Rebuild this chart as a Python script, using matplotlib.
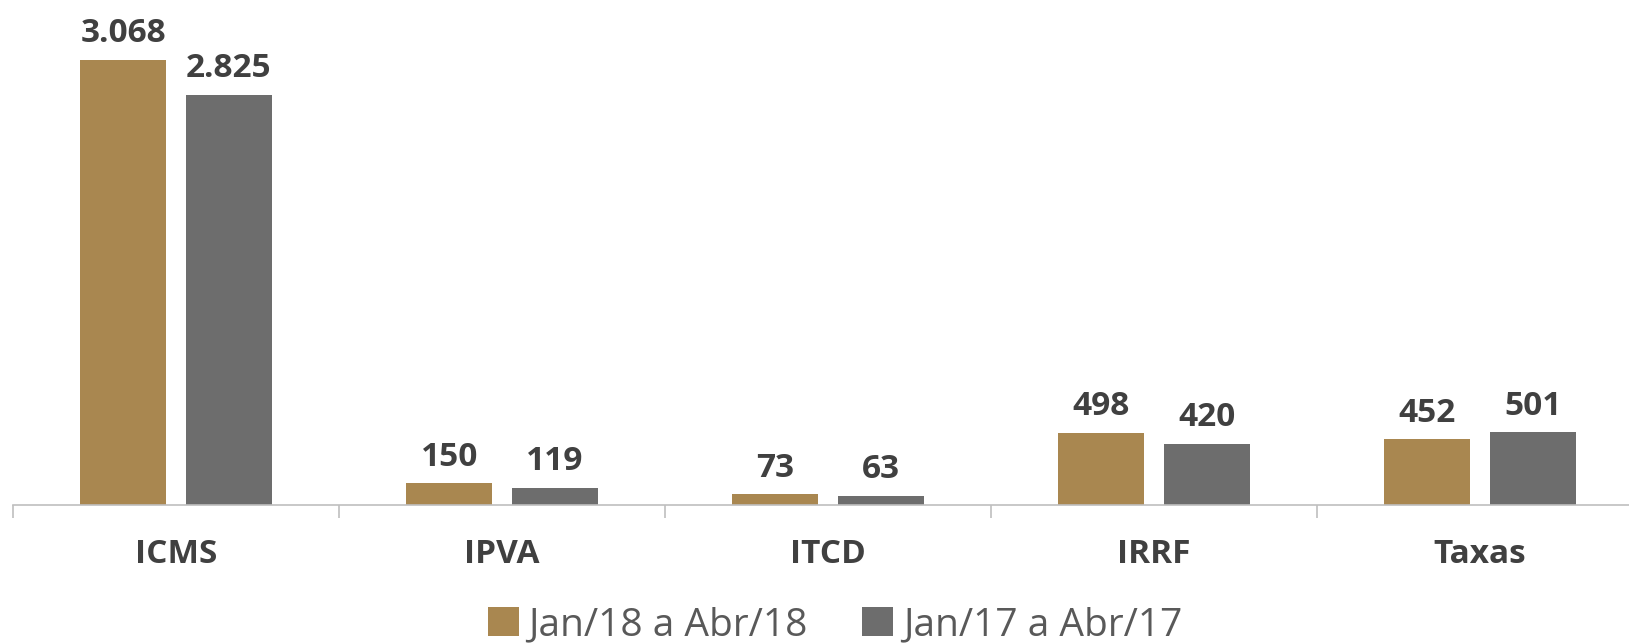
import matplotlib.pyplot as plt
import numpy as np

categorias = ['ICMS', 'IPVA', 'ITCD', 'IRRF', 'Taxas']
jan18_abr18 = [3068, 150, 73, 498, 452]
jan17_abr17 = [2825, 119, 63, 420, 501]
series = ['Jan/18 a Abr/18', 'Jan/17 a Abr/17']

cor_ouro = '#A98750'
cor_cinza = '#6D6D6D'
cor_texto = '#404040'

plt.rcParams['font.family'] = ['Open Sans', 'DejaVu Sans']

fig = plt.figure(figsize=(16.29, 6.44), dpi=100)
# eixo passa um pouco da borda direita, como no original
ax = fig.add_axes([13 / 1629, 1 - 505 / 644, 1630 / 1629, 505 / 644])

x = np.arange(len(categorias))
larg = 0.264
desl = 0.162

b1 = ax.bar(x - desl, jan18_abr18, larg, color=cor_ouro, label=series[0])
b2 = ax.bar(x + desl, jan17_abr17, larg, color=cor_cinza, label=series[1])

def fmt(v):
  return f'{v:,}'.replace(',', '.')

for barras in (b1, b2):
  for b in barras:
    ax.annotate(fmt(int(b.get_height())), (b.get_x() + b.get_width() / 2, b.get_height()),
                xytext=(0, 7), textcoords='offset points', ha='center', va='bottom',
                fontsize=24, fontweight='bold', color=cor_texto)

ax.set_xlim(-0.5, len(categorias) - 0.5)
ax.set_ylim(0, 3480)

for s in ['top', 'right', 'left']:
  ax.spines[s].set_visible(False)
ax.spines['bottom'].set_color('#BFBFBF')
ax.spines['bottom'].set_linewidth(1.2)
ax.set_yticks([])

ax.set_xticks(x)
ax.set_xticklabels(categorias, fontsize=24, fontweight='bold', color=cor_texto)
ax.tick_params(axis='x', which='major', length=0, pad=24)
ax.set_xticks(np.arange(-0.5, len(categorias), 1), minor=True)
ax.tick_params(axis='x', which='minor', length=9, color='#BFBFBF', width=1.2)

fig.legend(loc='center', bbox_to_anchor=(835 / 1629, 1 - 625 / 644), ncol=2, frameon=False,
           fontsize=28, labelcolor='#595959', handlelength=0.8, handleheight=0.8,
           handletextpad=0.25, columnspacing=1.4, borderpad=0)

fig.savefig('out.png', dpi=100)
